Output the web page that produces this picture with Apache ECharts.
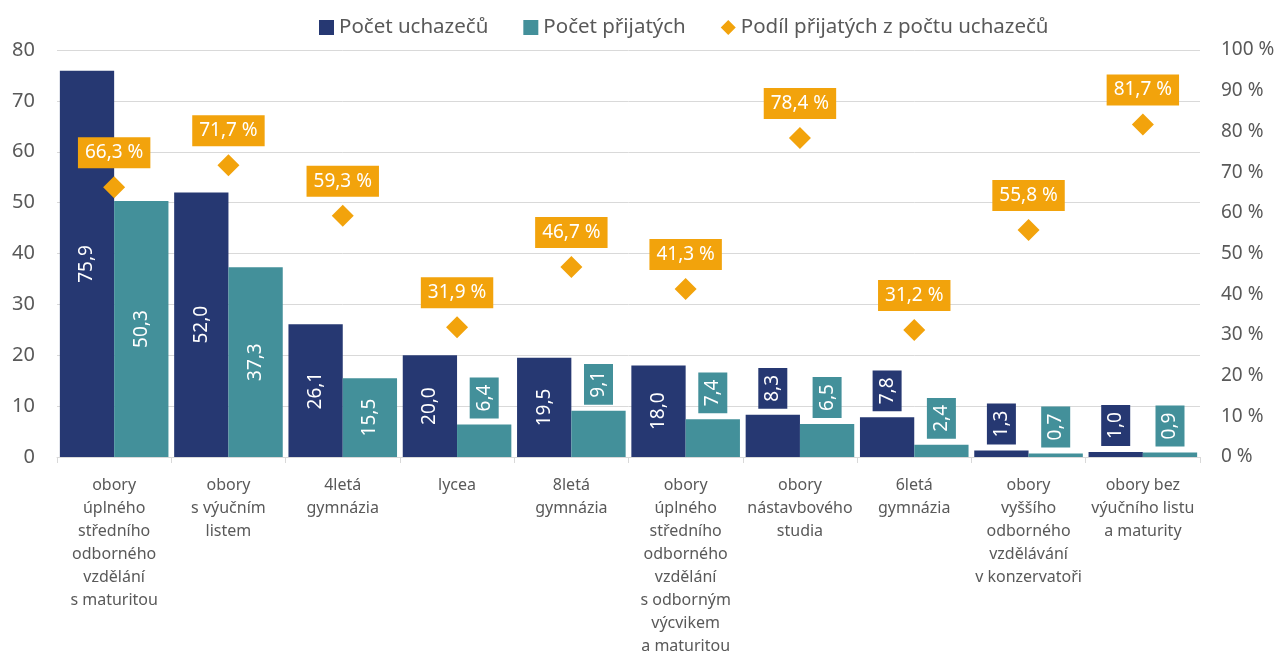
<!DOCTYPE html>
<html><head><meta charset="utf-8">
<script src="https://cdn.jsdelivr.net/npm/echarts@6/dist/echarts.min.js"></script>
<style>html,body{margin:0;padding:0;background:#fff}#c{width:1277px;height:657px}</style>
</head><body><div id="c"></div>
<script>
const categories = [
  "obory\núplného\nstředního\nodborného\nvzdělání\ns maturitou",
  "obory\ns výučním\nlistem",
  "4letá\ngymnázia",
  "lycea",
  "8letá\ngymnázia",
  "obory\núplného\nstředního\nodborného\nvzdělání\ns odborným\nvýcvikem\na maturitou",
  "obory\nnástavbového\nstudia",
  "6letá\ngymnázia",
  "obory\nvyššího\nodborného\nvzdělávání\nv konzervatoři",
  "obory bez\nvýučního listu\na maturity"
];
const uchazeci = [75.9, 52.0, 26.1, 20.0, 19.5, 18.0, 8.3, 7.8, 1.3, 1.0];
const prijati = [50.3, 37.3, 15.5, 6.4, 9.1, 7.4, 6.5, 2.4, 0.7, 0.9];
const podil = [66.3, 71.7, 59.3, 31.9, 46.7, 41.3, 78.4, 31.2, 55.8, 81.7];
const seriesNames = ["Počet uchazečů", "Počet přijatých", "Podíl přijatých z počtu uchazečů"];

const NAVY = '#263872', TEAL = '#43909a', ORANGE = '#f2a30c', TXT = '#595959', GRID = '#d9d9d9';
const FONT = 'Noto Sans';
const fmt = v => v.toFixed(1).replace('.', ',');

function barData(arr, color) {
  return arr.map(v => {
    if (v < 10) {
      return { value: v, label: {
        show: true, position: 'top', rotate: 90, align: 'left', verticalAlign: 'middle',
        distance: 6, color: '#fff', fontSize: 19, fontFamily: FONT,
        backgroundColor: color, padding: [5, 7], formatter: p => fmt(p.value)
      }};
    }
    return { value: v, label: {
      show: true, position: 'inside', rotate: 90, color: '#fff', fontSize: 19, fontFamily: FONT,
      formatter: p => fmt(p.value)
    }};
  });
}

const chart = echarts.init(document.getElementById('c'), null, { renderer: 'canvas' });
chart.setOption({
  animation: false,
  textStyle: { fontFamily: FONT },
  legend: {
    top: 12, left: 314, itemWidth: 15, itemHeight: 15, itemGap: 35,
    textStyle: { fontSize: 20.5, color: TXT, fontFamily: FONT },
    data: [
      { name: seriesNames[0], icon: 'rect' },
      { name: seriesNames[1], icon: 'rect' },
      { name: seriesNames[2], icon: 'diamond' }
    ]
  },
  grid: { left: 57, right: 77, top: 50, bottom: 200, containLabel: false, outerBoundsMode: 'none' },
  xAxis: {
    type: 'category', data: categories,
    axisLine: { lineStyle: { color: GRID, width: 1 } },
    axisTick: { show: true, length: 6, lineStyle: { color: GRID } },
    axisLabel: { interval: 0, color: TXT, fontSize: 16, lineHeight: 23, margin: 17, fontFamily: FONT }
  },
  yAxis: [
    { type: 'value', min: 0, max: 80, interval: 10,
      axisLabel: { color: TXT, fontSize: 20, margin: 22, fontFamily: FONT },
      splitLine: { lineStyle: { color: GRID, width: 1 } },
      axisLine: { show: false }, axisTick: { show: false } },
    { type: 'value', min: 0, max: 100, interval: 10, position: 'right',
      axisLabel: { color: TXT, fontSize: 19, margin: 21, fontFamily: FONT, formatter: '{value} %' },
      splitLine: { show: false }, axisLine: { show: false }, axisTick: { show: false } }
  ],
  series: [
    { name: seriesNames[0], type: 'bar', data: barData(uchazeci, NAVY), itemStyle: { color: NAVY },
      barGap: '0%', barCategoryGap: '5%' },
    { name: seriesNames[1], type: 'bar', data: barData(prijati, TEAL), itemStyle: { color: TEAL },
      barGap: '0%', barCategoryGap: '5%' },
    { name: seriesNames[2], type: 'scatter', yAxisIndex: 1, data: podil, symbol: 'diamond', symbolSize: 22,
      itemStyle: { color: ORANGE, opacity: 1 }, z: 5,
      label: { show: true, position: 'top', distance: 8, color: '#fff', fontSize: 19, fontFamily: FONT,
        backgroundColor: ORANGE, padding: [6, 7], formatter: p => fmt(p.value) + ' %' } }
  ]
});
</script></body></html>
